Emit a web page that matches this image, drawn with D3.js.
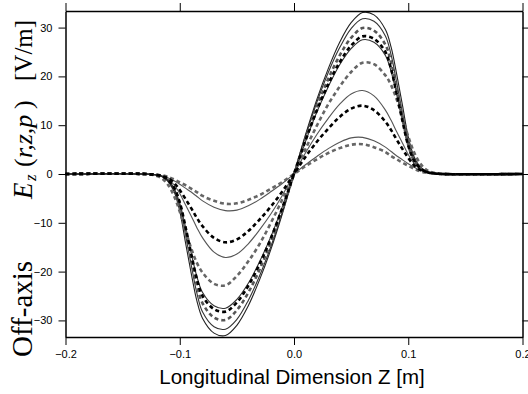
<!DOCTYPE html>
<html><head><meta charset="utf-8">
<script src="https://cdn.jsdelivr.net/npm/d3@7"></script>
<style>body{margin:0;background:#fff}svg{display:block}</style></head>
<body><svg id="c" width="528" height="394"></svg>
<script>
// Longitudinal positions Z [m]
const zPos = [-0.2,-0.13,-0.12,-0.115,-0.11,-0.105,-0.1,-0.095,-0.09,-0.085,-0.08,-0.07,-0.06,-0.05,-0.04,-0.03,-0.02,-0.01,0,0.01,0.02,0.03,0.04,0.05,0.06,0.07,0.08,0.085,0.09,0.095,0.1,0.105,0.11,0.115,0.12,0.13,0.2];
// Off-axis Ez [V/m]
const solidA = [0,0,-0.2,-0.6,-1.6,-3.6,-7.6,-14.0,-20.3,-26.0,-29.6,-32.6,-33.1,-31.0,-27.0,-21.6,-15.3,-8.0,0,8.0,15.3,21.6,27.0,31.0,33.1,32.6,29.6,26.0,20.3,14.0,7.6,3.6,1.6,0.6,0.2,0,0];
const solidB = [0,0,-0.2,-0.5,-1.4,-3.1,-6.6,-12.4,-18.6,-24.4,-28.3,-31.3,-31.8,-29.8,-25.9,-20.8,-14.7,-7.7,0,7.7,14.7,20.8,25.9,29.8,31.8,31.3,28.3,24.4,18.6,12.4,6.6,3.1,1.4,0.5,0.2,0,0];
const dashGrayA = [0,0,-0.2,-0.5,-1.3,-2.8,-6.0,-11.4,-17.3,-22.8,-26.5,-29.4,-29.9,-27.9,-24.3,-19.5,-13.8,-7.2,0,7.2,13.8,19.5,24.3,27.9,29.9,29.4,26.5,22.8,17.3,11.4,6.0,2.8,1.3,0.5,0.2,0,0];
const dashBlackA = [0,0,-0.2,-0.5,-1.3,-2.8,-5.8,-10.8,-16.3,-21.5,-25.0,-27.7,-28.2,-26.3,-22.9,-18.4,-13.0,-6.8,0,6.8,13.0,18.4,22.9,26.3,28.2,27.7,25.0,21.5,16.3,10.8,5.8,2.8,1.3,0.5,0.2,0,0];
const solidC = [0,0,-0.2,-0.5,-1.3,-2.9,-6.0,-10.9,-16.2,-21.0,-24.3,-27.0,-27.5,-25.7,-22.4,-17.9,-12.7,-6.6,0,6.6,12.7,17.9,22.4,25.7,27.5,27.0,24.3,21.0,16.2,10.9,6.0,2.9,1.3,0.5,0.2,0,0];
const dashGrayB = [0,0,-0.4,-1.0,-2.3,-4.5,-7.7,-11.5,-15.2,-18.2,-20.2,-22.5,-22.8,-20.9,-17.9,-14.3,-9.9,-5.1,0,5.1,9.9,14.3,17.9,20.9,22.8,22.5,20.2,18.2,15.2,11.5,7.7,4.5,2.3,1.0,0.4,0,0];
const solidD = [0,0,-0.2,-0.5,-1.1,-2.2,-4.0,-6.3,-8.6,-11.0,-13.1,-16.0,-17.1,-16.4,-14.3,-11.4,-8.1,-4.3,0,4.3,8.1,11.4,14.3,16.4,17.1,16.0,13.1,11.0,8.6,6.3,4.0,2.2,1.1,0.5,0.2,0,0];
const dashBlackB = [0,0,-0.2,-0.5,-0.9,-1.8,-3.3,-5.1,-7.0,-9.0,-10.7,-13.1,-14.0,-13.4,-11.7,-9.3,-6.6,-3.5,0,3.5,6.6,9.3,11.7,13.4,14.0,13.1,10.7,9.0,7.0,5.1,3.3,1.8,0.9,0.5,0.2,0,0];
const solidE = [0,0,-0.2,-0.4,-0.8,-1.4,-2.1,-2.9,-3.7,-4.6,-5.5,-6.8,-7.5,-7.4,-6.5,-5.2,-3.6,-1.9,0,1.9,3.6,5.2,6.5,7.4,7.5,6.8,5.5,4.6,3.7,2.9,2.1,1.4,0.8,0.4,0.2,0,0];
const dashGrayC = [0,0,-0.2,-0.3,-0.6,-1.1,-1.7,-2.3,-3.0,-3.7,-4.5,-5.5,-6.1,-6.0,-5.3,-4.3,-3.0,-1.6,0,1.6,3.0,4.3,5.3,6.0,6.1,5.5,4.5,3.7,3.0,2.3,1.7,1.1,0.6,0.3,0.2,0,0];

const xTicks = [-0.2,-0.1,0.0,0.1,0.2];
const yTicks = [-30,-20,-10,0,10,20,30];

// styles (kept separate from the data)
const seriesList = [
  {v: solidE, c: "#555", w: 1.1, d: null},
  {v: solidD, c: "#555", w: 1.1, d: null},
  {v: solidC, c: "#333", w: 1.1, d: null},
  {v: solidB, c: "#333", w: 1.1, d: null},
  {v: solidA, c: "#222", w: 1.1, d: null},
  {v: dashGrayC, c: "#666", w: 2.6, d: "4,3"},
  {v: dashGrayB, c: "#666", w: 2.6, d: "4,3"},
  {v: dashGrayA, c: "#555", w: 2.6, d: "4,3"},
  {v: dashBlackB, c: "#000", w: 2.6, d: "4,3"},
  {v: dashBlackA, c: "#000", w: 2.6, d: "4,3"}
];

const L = 65.5, R = 522.5, T = 11, B = 337;
const x = d3.scaleLinear().domain([-0.2, 0.2]).range([L, R]);
const y = d3.scaleLinear().domain([-33.4, 33.4]).range([B, T]);
const svg = d3.select("#c");

const line = d3.line().x((d,i)=>x(zPos[i])).y(d=>y(d)).curve(d3.curveCatmullRom.alpha(0.5));
const g = svg.append("g");
seriesList.forEach(s => {
  g.append("path").attr("d", line(s.v)).attr("fill","none")
    .attr("stroke", s.c).attr("stroke-width", s.w)
    .attr("stroke-dasharray", s.d);
});

const fmt = d3.format(".1f");
const axB = d3.axisBottom(x).tickValues(xTicks).tickFormat(fmt).tickSize(8).tickSizeOuter(0).tickPadding(5);
const axT = d3.axisTop(x).tickValues(xTicks).tickFormat("").tickSize(8).tickSizeOuter(0);
const axL = d3.axisLeft(y).tickValues(yTicks).tickFormat(d3.format("d")).tickSize(7).tickSizeOuter(0).tickPadding(6);
const axR = d3.axisRight(y).tickValues(yTicks).tickFormat("").tickSize(7).tickSizeOuter(0);

function style(sel){
  sel.select(".domain").attr("stroke","#000").attr("stroke-width",1.5);
  sel.selectAll(".tick line").attr("stroke","#000").attr("stroke-width",1);
  sel.selectAll(".tick text").attr("fill","#000").style("font-family","'Liberation Sans', Arial, sans-serif").style("font-size","11px");
}
svg.append("g").attr("transform",`translate(0,${B})`).call(axB).call(style);
svg.append("g").attr("transform",`translate(0,${T})`).call(axT).call(style);
svg.append("g").attr("transform",`translate(${L},0)`).call(axL).call(style);
svg.append("g").attr("transform",`translate(${R},0)`).call(axR).call(style);

svg.append("text").attr("x", 292).attr("y", 384).attr("text-anchor","middle")
  .style("font-family","'Liberation Sans', Arial, sans-serif").style("font-size","20.5px")
  .text("Longitudinal Dimension Z [m]");

// rotated y-axis title, pieces placed along the axis
const serif = "'Liberation Serif','Times New Roman',serif";
const yt = svg.append("g").attr("transform","translate(32,0) rotate(-90)");
function piece(txt, yPos, size, italic, dy){
  yt.append("text").attr("x", -yPos).attr("y", dy||0)
    .style("font-family", serif).style("font-size", size+"px")
    .style("font-style", italic ? "italic" : "normal").text(txt);
}
piece("Off-axis", 357, 29, false);
piece("E", 199, 27, true);
piece("z", 181, 17, true, 4);
piece("(", 167, 26, false);
piece("r,z,p", 158, 26, true);
piece(")", 109, 26, false);
piece("[V/m]", 81, 25, false);
</script>
</body></html>
